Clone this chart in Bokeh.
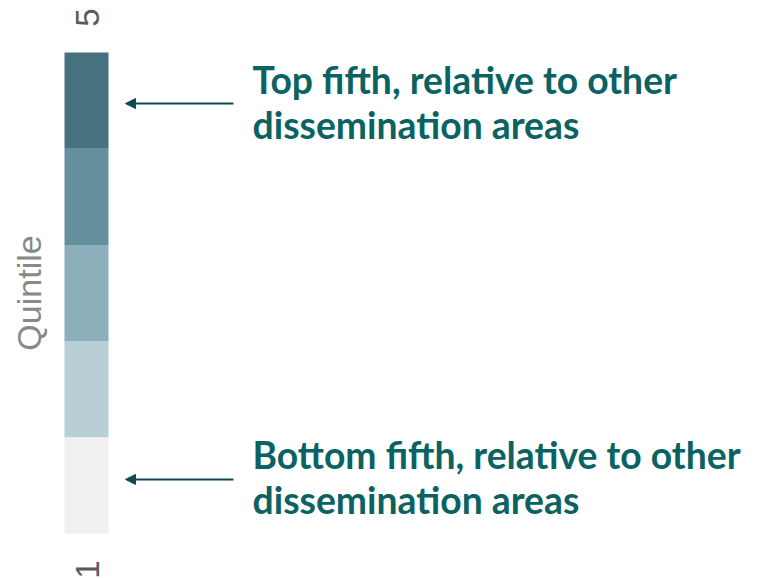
import math
from bokeh.plotting import figure
from bokeh.models import Range1d, Arrow, NormalHead, ColumnDataSource
from bokeh.core.properties import value
from bokeh.embed import file_html
from bokeh.resources import INLINE

# Data
quintiles = [1, 2, 3, 4, 5]
colors = ["#f0f0f0", "#b9cfd6", "#8cafbb", "#64909e", "#47717f"]
end_labels = ["1", "5"]
legend_title = "Quintile"
notes = ["Bottom fifth, relative to other\ndissemination areas",
         "Top fifth, relative to other\ndissemination areas"]
note_quintiles = [1, 5]

W, H = 762, 578
PX = 96.2  # pixels per quintile unit
p = figure(width=W, height=H, output_backend="svg", toolbar_location=None,
           x_range=Range1d(0, W), y_range=Range1d(-0.468, 5.5405),
           min_border=0, outline_line_color=None)
p.axis.visible = False
p.grid.visible = False
p.background_fill_color = "white"
p.border_fill_color = "white"

src = ColumnDataSource(dict(bottom=[q - 1 for q in quintiles], top=quintiles, color=colors))
p.quad(left=64, right=108, bottom="bottom", top="top", fill_color="color",
       line_color=None, source=src)

# end labels
p.text(x=[87, 87], y=[min(quintiles) - 1, max(quintiles)], text=end_labels,
       y_offset=[36, -35], angle=math.pi / 2, text_align="center", text_baseline="middle",
       text_font=value("Liberation Sans"), text_font_size="33px", text_color="#5a5a5a")

# title
p.text(x=[28], y=[(min(quintiles) - 1 + max(quintiles)) / 2], text=[legend_title],
       angle=math.pi / 2, text_align="center", text_baseline="middle",
       text_font=value("Liberation Sans"), text_font_size="34px", text_color="#888888")

# arrows and notes
shifts = {1: 6, 5: -3}  # pixel nudges (up positive)
for q, note in zip(note_quintiles, notes):
    yc = q - 0.5 + shifts[q] / PX
    p.add_layout(Arrow(end=NormalHead(size=10, fill_color="#0e4a50", line_color="#0e4a50"),
                       x_start=233, y_start=yc, x_end=125, y_end=yc,
                       line_color="#0e4a50", line_width=2))
    p.text(x=[252], y=[yc], text=[note], text_align="left", text_baseline="middle",
           text_font=value("Lato"), text_font_style="bold", text_font_size="37.3px",
           text_color="#0b6262", text_line_height=1.0, y_offset=-2)

open("out.html", "w").write(file_html(p, INLINE))
